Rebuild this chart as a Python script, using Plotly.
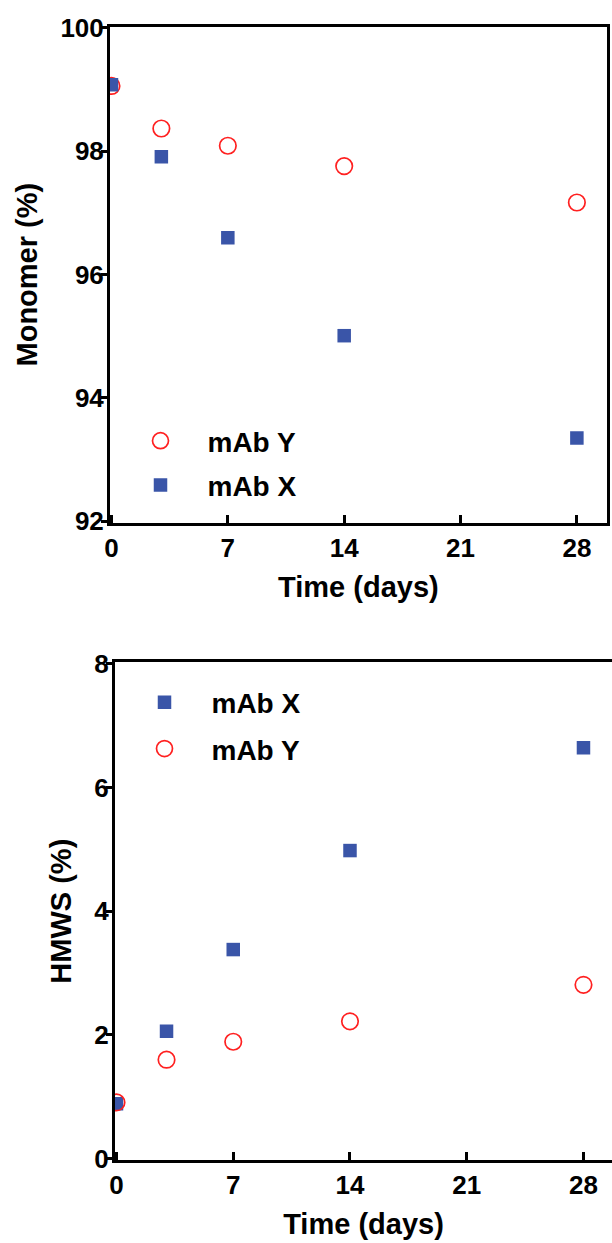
import plotly.graph_objects as go

# ---- data ----
days = [0, 3, 7, 14, 28]
monomer_mab_y = [99.06, 98.37, 98.09, 97.76, 97.17]
monomer_mab_x = [99.08, 97.91, 96.60, 95.01, 93.35]
hmws_mab_x = [0.89, 2.06, 3.38, 4.98, 6.64]
hmws_mab_y = [0.91, 1.60, 1.89, 2.22, 2.81]
x_ticks = [0, 7, 14, 21, 28]
monomer_ticks = [92, 94, 96, 98, 100]
hmws_ticks = [0, 2, 4, 6, 8]

W, H = 612, 1243
FONT = "Liberation Sans, Arial, Helvetica, sans-serif"
BLUE = "#3A55A8"
RED = "#FF2020"

sq = dict(symbol="square", size=13.5, color=BLUE, line=dict(width=0))
ci = dict(symbol="circle-open", size=16.5, color=RED, line=dict(width=1.7, color=RED))

fig = go.Figure()
# top panel (Y first, X on top)
fig.add_trace(go.Scatter(x=days, y=monomer_mab_y, mode="markers", name="mAb Y",
                         marker=ci, xaxis="x", yaxis="y", legend="legend", legendgroup="a"))
fig.add_trace(go.Scatter(x=days, y=monomer_mab_x, mode="markers", name="mAb X",
                         marker=sq, xaxis="x", yaxis="y", legend="legend", legendgroup="b"))
# bottom panel (X first, Y on top)
fig.add_trace(go.Scatter(x=days, y=hmws_mab_x, mode="markers", name="mAb X",
                         marker=sq, xaxis="x2", yaxis="y2", legend="legend2", legendgroup="c"))
fig.add_trace(go.Scatter(x=days, y=hmws_mab_y, mode="markers", name="mAb Y",
                         marker=ci, xaxis="x2", yaxis="y2", legend="legend2", legendgroup="d"))

tickfont = dict(family=FONT, size=26, color="black", weight="bold")
titlefont = dict(family=FONT, size=29, color="black", weight="bold")
legfont = dict(family=FONT, size=28, color="black", weight="bold")

def xax(domain, rng, anchor, mirror):
    return dict(domain=domain, range=rng, anchor=anchor, tickmode="array",
                tickvals=x_ticks, ticks="inside", ticklen=8, tickwidth=3, tickcolor="black",
                showline=True, linewidth=3, linecolor="black", mirror=mirror,
                showgrid=False, zeroline=False, tickfont=tickfont, automargin=False,
                title=dict(text="Time (days)", font=titlefont))

def yax(domain, rng, anchor, tickvals, title, mirror):
    return dict(domain=domain, range=rng, anchor=anchor, tickmode="array",
                tickvals=tickvals, ticks="outside", ticklen=6, tickwidth=3, tickcolor="black",
                showline=True, linewidth=3, linecolor="black", mirror=mirror,
                showgrid=False, zeroline=False, tickfont=tickfont, automargin=False,
                ticklabelstandoff=-8,
                title=dict(text=title, font=titlefont))

fig.update_layout(
    width=W, height=H, margin=dict(l=0, r=0, t=0, b=0, autoexpand=False),
    paper_bgcolor="white", plot_bgcolor="white",
    xaxis=xax([110 / W, 606.8 / W], [-0.0897, 29.80], "y", True),
    yaxis=yax([1 - 522.8 / H, 1 - 26.5 / H], [91.976, 100.024], "x", monomer_ticks, "Monomer (%)", True),
    xaxis2=xax([115 / W, 1.0], [-0.0894, 29.71], "y2", True),
    yaxis2=yax([1 - 1160.2 / H, 1 - 662.2 / H], [-0.024, 8.024], "x2", hmws_ticks, "HMWS (%)", False),
    legend=dict(x=113.5 / W, y=1 - 416 / H, xanchor="left", yanchor="top",
                bgcolor="rgba(0,0,0,0)", itemwidth=84, tracegroupgap=5,
                traceorder="grouped", font=legfont),
    legend2=dict(x=117.5 / W, y=1 - 677.5 / H, xanchor="left", yanchor="top",
                 bgcolor="rgba(0,0,0,0)", itemwidth=84, tracegroupgap=7,
                 traceorder="grouped", font=legfont),
    showlegend=True,
)

fig.write_html("out.html")
